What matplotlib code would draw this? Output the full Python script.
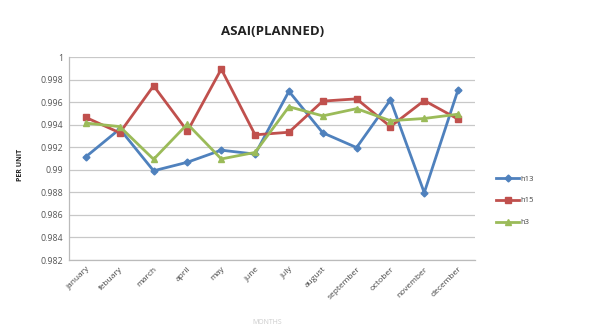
import numpy as np
import matplotlib.pyplot as plt

months = ["january", "febuary", "march", "april", "may", "june", "july",
          "august", "september", "october", "november", "december"]

h13 = [0.99116, 0.99362, 0.98991, 0.99067, 0.99174, 0.99139,
       0.99696, 0.99328, 0.99197, 0.99620, 0.98797, 0.99710]
h15 = [0.99464, 0.99328, 0.99745, 0.99342, 0.99893, 0.99310,
       0.99333, 0.99609, 0.99629, 0.99383, 0.99614, 0.99449]
h3 = [0.99414, 0.99383, 0.99093, 0.99406, 0.99096, 0.99154,
      0.99559, 0.99478, 0.99542, 0.99435, 0.99455, 0.99493]

yticks = [0.982, 0.984, 0.986, 0.988, 0.99, 0.992, 0.994, 0.996, 0.998, 1]
ytick_labels = ["0.982", "0.984", "0.986", "0.988", "0.99", "0.992",
                "0.994", "0.996", "0.998", "1"]

plt.rcParams['font.family'] = ['Open Sans', 'DejaVu Sans']

fig = plt.figure(figsize=(5.93, 3.29), dpi=100)
ax = fig.add_axes([0.1164, 0.2097, 0.6846, 0.617])

x = np.arange(len(months))
ax.plot(x, h13, "-D", color="#4F81BD", lw=2, ms=3.5, label="h13")
ax.plot(x, h15, "-s", color="#C0504D", lw=2, ms=4.5, label="h15")
ax.plot(x, h3, "-^", color="#9BBB59", lw=2, ms=4.5, label="h3")

ax.set_xlim(-0.5, len(months) - 0.5)
ax.set_ylim(0.982, 1.0)
ax.set_yticks(yticks)
ax.set_yticklabels(ytick_labels, fontsize=6.3, color="#555555")
ax.set_xticks(x)
ax.set_xticklabels(months, rotation=45, ha="right", rotation_mode="anchor",
                   fontsize=6, color="#444444")
ax.tick_params(axis="both", length=0, pad=4)
ax.grid(axis="y", color="#c8c8c8", lw=0.9)
ax.set_axisbelow(True)
for side in ["top", "right"]:
    ax.spines[side].set_visible(False)
for side in ["left", "bottom"]:
    ax.spines[side].set_color("#bbbbbb")
    ax.spines[side].set_linewidth(0.9)

fig.text(0.459, 0.905, "ASAI(PLANNED)", ha="center", va="center",
         fontsize=9.5, fontweight="bold", color="#222222")
fig.text(0.035, 0.50, "PER UNIT", rotation=90, ha="center", va="center",
         fontsize=5, fontweight="bold", color="#222222")
fig.text(0.45, 0.02, "MONTHS", ha="center", va="center",
         fontsize=5, color="#cccccc")

fig.legend(loc="center left", bbox_to_anchor=(0.825, 0.39), frameon=False,
           fontsize=5.5, handlelength=3, labelspacing=1.9, handletextpad=0.2,
           labelcolor="#444444")

fig.savefig("out.png", dpi=100, facecolor="white")
